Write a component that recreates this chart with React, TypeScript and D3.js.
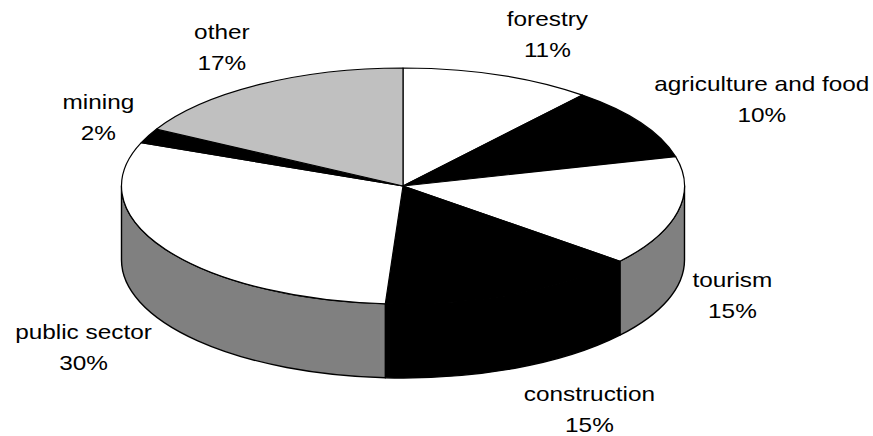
import React from "react";
import * as d3 from "d3";

// ---- data ----
const categories = ["forestry", "agriculture and food", "tourism", "construction", "public sector", "mining", "other"];
const shares = [11, 10, 15, 15, 30, 2, 17];
const percentLabels = ["11%", "10%", "15%", "15%", "30%", "2%", "17%"];

// ---- styles ----
const topColors = ["#ffffff", "#000000", "#ffffff", "#000000", "#ffffff", "#000000", "#c0c0c0"];
const sideColors = ["#808080", "#000000", "#808080", "#000000", "#808080", "#000000", "#606060"];

const W = 873;
const H = 436;
const cx = 403;
const cy = 186;
const rx = 281.5;
const ry = 118;
const depth = 74;
const FONT = "'Liberation Sans', Arial, sans-serif";
const FONT_SIZE = 21;
const XSCALE = 1.16;
const LINE_GAP = 31;

function measure(text: string): number {
  if (typeof document === "undefined") return text.length * 11;
  const c = document.createElement("canvas");
  const ctx = c.getContext("2d");
  if (!ctx) return text.length * 11;
  ctx.font = `${FONT_SIZE}px ${FONT}`;
  return ctx.measureText(text).width * XSCALE;
}

export default function App() {
  const arcs = d3.pie<number>().sort(null).startAngle(0).endAngle(2 * Math.PI)(shares);
  const pt = (a: number): [number, number] => [cx + rx * Math.sin(a), cy - ry * Math.cos(a)];
  const f = (p: [number, number]) => `${p[0].toFixed(2)},${p[1].toFixed(2)}`;

  const sides = arcs.map((a, i) => {
    const s = Math.max(a.startAngle, Math.PI / 2);
    const e = Math.min(a.endAngle, (3 * Math.PI) / 2);
    if (e <= s) return null;
    const ps = pt(s);
    const pe = pt(e);
    const d = `M${f(ps)}A${rx},${ry} 0 0 1 ${f(pe)}L${f([pe[0], pe[1] + depth])}A${rx},${ry} 0 0 0 ${f([ps[0], ps[1] + depth])}Z`;
    return <path key={"s" + i} d={d} fill={sideColors[i]} stroke="#000" strokeWidth={1.4} strokeLinejoin="round" />;
  });

  const tops = arcs.map((a, i) => {
    const p0 = pt(a.startAngle);
    const p1 = pt(a.endAngle);
    const large = a.endAngle - a.startAngle > Math.PI ? 1 : 0;
    const d = `M${cx},${cy}L${f(p0)}A${rx},${ry} 0 ${large} 1 ${f(p1)}Z`;
    return <path key={"t" + i} d={d} fill={topColors[i]} stroke="#000" strokeWidth={1.2} strokeLinejoin="round" />;
  });

  const labels = arcs.map((a, i) => {
    const mid = (a.startAngle + a.endAngle) / 2;
    const sn = Math.sin(mid);
    const cs = Math.cos(mid);
    const p = pt(mid);
    const py = p[1] + (cs < 0 ? depth : 0);
    const w = Math.max(measure(categories[i]), measure(percentLabels[i]));
    const gap = 5 + 10 * Math.abs(sn);
    const bx = sn >= 0 ? p[0] + gap + w / 2 : p[0] - gap - w / 2;
    const centerY = py - cs * 44;
    const b1 = centerY - 8;
    const b2 = b1 + LINE_GAP;
    return (
      <g key={"l" + i}>
        <text transform={`translate(${bx.toFixed(2)},${b1.toFixed(2)}) scale(${XSCALE},1)`} textAnchor="middle" fontFamily={FONT} fontSize={FONT_SIZE} fill="#000">
          {categories[i]}
        </text>
        <text transform={`translate(${bx.toFixed(2)},${b2.toFixed(2)}) scale(${XSCALE},1)`} textAnchor="middle" fontFamily={FONT} fontSize={FONT_SIZE} fill="#000">
          {percentLabels[i]}
        </text>
      </g>
    );
  });

  return (
    <svg width={W} height={H} viewBox={`0 0 ${W} ${H}`} style={{ position: "absolute", left: 0, top: 0, background: "#fff" }}>
      <rect x={0} y={0} width={W} height={H} fill="#fff" />
      {sides}
      {tops}
      {labels}
    </svg>
  );
}
